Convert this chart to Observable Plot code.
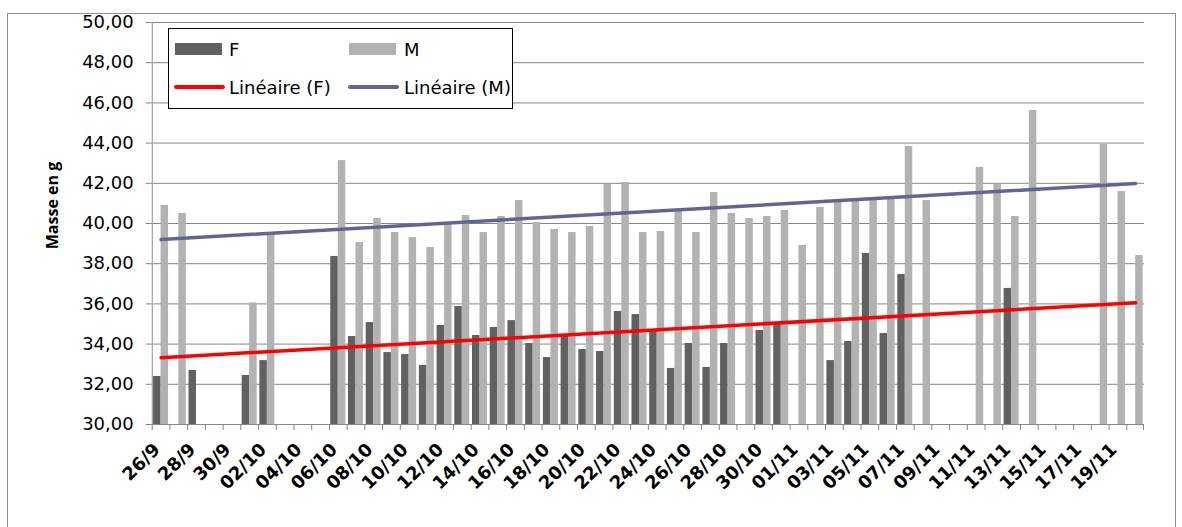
<!DOCTYPE html>
<html>
<head>
<meta charset="utf-8">
<script src="https://cdn.jsdelivr.net/npm/d3@7"></script>
<script src="https://cdn.jsdelivr.net/npm/@observablehq/plot@0.6"></script>
<style>
  body { margin: 0; background: #fff; }
  #wrap { position: relative; width: 1182px; height: 527px; overflow: hidden; background: #fff; }
  #chart { position: absolute; left: 0; top: 0; }
  #border { position: absolute; left: 7px; top: 13px; width: 1169px; height: 530px; border: 1px solid #8e8e8e; box-sizing: border-box; pointer-events: none; }
  #legend { position: absolute; left: 168px; top: 28px; width: 345px; height: 81px; border: 1px solid #000; box-sizing: border-box; background: #fff; font-family: "DejaVu Sans", sans-serif; font-size: 18px; color: #000; }
  #legend .sw { position: absolute; }
  #legend .tx { position: absolute; line-height: 1; white-space: nowrap; }
</style>
</head>
<body>
<div id="wrap">
  <div id="chart"></div>
  <div id="border"></div>
  <div id="legend">
    <div class="sw" style="left:6px;top:14px;width:47px;height:12px;background:#616161"></div>
    <div class="tx" style="left:60px;top:12px">F</div>
    <div class="sw" style="left:180px;top:14px;width:47px;height:12px;background:#b2b2b2"></div>
    <div class="tx" style="left:235px;top:12px">M</div>
    <div class="sw" style="left:5px;top:56px;width:51px;height:4px;background:#ff0000;border-radius:2px"></div>
    <div class="tx" style="left:60px;top:50px">Linéaire (F)</div>
    <div class="sw" style="left:179px;top:56px;width:51px;height:4px;background:#636395;border-radius:2px"></div>
    <div class="tx" style="left:235px;top:50px">Linéaire (M)</div>
  </div>
</div>
<script>
// ---- data ----
const categories = [
  "26/9","27/9","28/9","29/9","30/9",
  "01/10","02/10","03/10","04/10","05/10","06/10","07/10","08/10","09/10","10/10",
  "11/10","12/10","13/10","14/10","15/10","16/10","17/10","18/10","19/10","20/10",
  "21/10","22/10","23/10","24/10","25/10","26/10","27/10","28/10","29/10","30/10","31/10",
  "01/11","02/11","03/11","04/11","05/11","06/11","07/11","08/11","09/11","10/11",
  "11/11","12/11","13/11","14/11","15/11","16/11","17/11","18/11","19/11","20/11"
];
const massF = [
  32.39, null, 32.69, null, null,
  32.44, 33.18, null, null, null, 38.36, 34.38, 35.07, 33.58, 33.48,
  32.94, 34.93, 35.87, 34.43, 34.83, 35.17, 34.03, 33.33, 34.43, 33.73,
  33.63, 35.62, 35.47, 34.68, 32.79, 34.03, 32.84, 34.03, null, 34.68, 35.07,
  null, null, 33.18, 34.13, 38.51, 34.53, 37.46, null, null, null,
  null, null, 36.77, null, null, null, null, null, null, null
];
const massM = [
  40.90, 40.50, null, null, null,
  36.05, 39.45, null, null, null, 43.13, 39.05, 40.25, 39.55, 39.30,
  38.81, 40.00, 40.40, 39.55, 40.35, 41.14, 40.05, 39.70, 39.55, 39.85,
  41.94, 42.04, 39.55, 39.60, 40.65, 39.55, 41.54, 40.50, 40.25, 40.35, 40.65,
  38.91, 40.80, 41.09, 41.14, 41.19, 41.24, 43.83, 41.14, null, null,
  42.79, 41.94, 40.35, 45.62, null, null, null, 43.93, 41.59, 38.41
];
const yTicks = [30, 32, 34, 36, 38, 40, 42, 44, 46, 48, 50];
const xLabels = categories.filter((d, i) => i % 2 === 0);

// ---- linear trend (least squares on category index, as a spreadsheet trendline) ----
function fit(vals) {
  const pts = vals.map((v, i) => [i, v]).filter(d => d[1] != null);
  const mx = d3.mean(pts, d => d[0]), my = d3.mean(pts, d => d[1]);
  const b = d3.sum(pts, d => (d[0] - mx) * (d[1] - my)) / d3.sum(pts, d => (d[0] - mx) ** 2);
  return [my - b * mx, b];
}
const last = categories.length - 1;
const trend = (vals) => { const [a, b] = fit(vals); return [{c: categories[0], v: a}, {c: categories[last], v: a + b * last}]; };
const trendF = trend(massF), trendM = trend(massM);

const rows = categories.map((c, i) => ({c, F: massF[i], M: massM[i]}));

const left = 151.7, right = 1144;
const bw = (right - left) / categories.length;
const barW = 7.5;
const pad = (bw - 2 * barW) / 2;
const grid = "#868686";

const chart = Plot.plot({
  width: 1182,
  height: 527,
  marginLeft: left,
  marginRight: 1182 - right,
  marginTop: 22,
  marginBottom: 103,
  style: {background: "transparent", overflow: "visible"},
  x: {type: "band", domain: categories, padding: 0, axis: null},
  y: {domain: [30, 50]},
  marks: [
    Plot.ruleY(yTicks.slice(1), {stroke: grid, strokeWidth: 1}),
    Plot.barY(rows.filter(d => d.F != null), {x: "c", y1: 30, y2: "F", fill: "#616161", insetLeft: pad, insetRight: pad + barW}),
    Plot.barY(rows.filter(d => d.M != null), {x: "c", y1: 30, y2: "M", fill: "#b2b2b2", insetLeft: pad + barW, insetRight: pad}),
    Plot.ruleY([30], {stroke: grid, strokeWidth: 1}),
    // y axis line
    Plot.barY([categories[0]], {x: d => d, y1: 30, y2: 50, insetRight: bw - 1.3, fill: "#a8a8a8"}),
    // category boundary ticks
    Plot.barY(categories, {x: d => d, y1: 30, y2: 29.7, insetRight: bw - 1, fill: grid}),
    Plot.barY([categories[last]], {x: d => d, y1: 30, y2: 29.7, insetLeft: bw - 1, fill: grid}),
    Plot.axisY({ticks: yTicks, tickSize: 6, tickPadding: 12.5, stroke: grid, fill: "#000",
      tickFormat: d => d.toFixed(2).replace(".", ","), fontSize: 18, fontFamily: "DejaVu Sans", label: null}),
    Plot.line(trendF, {x: "c", y: "v", stroke: "#ff0000", strokeWidth: 3.5}),
    Plot.line(trendM, {x: "c", y: "v", stroke: "#636395", strokeWidth: 3.5}),
    Plot.text(xLabels, {x: d => d, y: () => 30, text: d => d, rotate: -45, textAnchor: "end", lineAnchor: "top",
      dx: -9, dy: 17, fontSize: 18, fontWeight: "bold", fontFamily: "DejaVu Sans", fill: "#000"}),
    Plot.text(["Masse en g"], {frameAnchor: "left", text: d => d, rotate: -90, textAnchor: "middle", dx: -99, dy: -18,
      fontSize: 16, fontWeight: "bold", fontFamily: "Open Sans", fill: "#000"})
  ]
});
document.getElementById("chart").appendChild(chart);
</script>
</body>
</html>
